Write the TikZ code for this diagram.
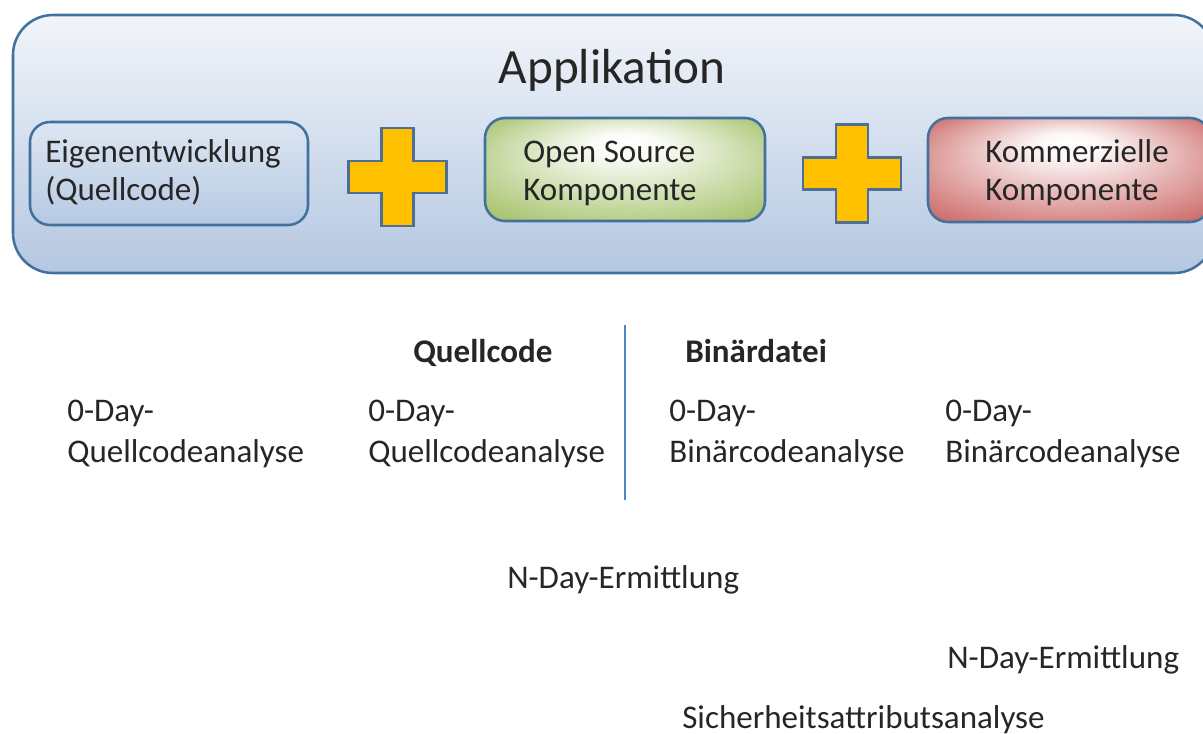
\documentclass[tikz,border=0pt]{standalone}
\usepackage{fontspec}
\setmainfont{Carlito}
\definecolor{appborder}{HTML}{41719C}
\definecolor{apptop}{HTML}{F2F5FA}
\definecolor{appbottom}{HTML}{B4C7E1}
\definecolor{owntop}{HTML}{DDE6F2}
\definecolor{ownbottom}{HTML}{B6C9E3}
\definecolor{ossgreen}{HTML}{9BBB59}
\definecolor{commred}{HTML}{C65A58}
\definecolor{plusfill}{HTML}{FFC000}
\definecolor{plusborder}{HTML}{4E6E96}
\definecolor{divblue}{HTML}{4F86C6}
\pgfdeclareradialshading{ossglow}{\pgfpoint{0bp}{14bp}}{color(0bp)=(white); color(6bp)=(white!95!ossgreen); color(38bp)=(ossgreen)}
\pgfdeclareradialshading{commglow}{\pgfpoint{0bp}{14bp}}{color(0bp)=(white); color(6bp)=(white!95!commred); color(38bp)=(commred)}
\begin{document}
\begin{tikzpicture}[x=0.025cm, y=-0.025cm,
  every node/.style={inner sep=0pt, text=black!85, font=\fontsize{23.5}{28.5}\selectfont},
  box/.style={draw=appborder, line width=1.8pt, rounded corners=0.5cm},
  plussign/.style={draw=plusborder, fill=plusfill, line width=1.5pt},
  lbl/.style={anchor=base west, align=left},
  boxlbl/.style={lbl, font=\fontsize{23.5}{26.5}\selectfont},
  head/.style={lbl, font=\fontsize{23.5}{28.5}\selectfont\bfseries},
  divider/.style={draw=divblue, line width=2pt}]
  \useasboundingbox (0,0) rectangle (1203,733);
  \clip (0,0) rectangle (1203,733);
  % application frame
  \draw[box, rounded corners=1cm, top color=apptop, bottom color=appbottom] (13,15) rectangle (1214,273);
  \node[anchor=base, font=\fontsize{35}{40}\selectfont] (app) at (612,83) {Applikation};
  % the three parts (last baseline given)
  \draw[box, top color=owntop, bottom color=ownbottom] (30,122) rectangle (308,225);
  \draw[box, shading=ossglow] (485,118) rectangle (765,221);
  \draw[box, shading=commglow] (928,118) rectangle (1210,222);
  \node[boxlbl] (eigen) at (45,200) {Eigenentwicklung\\(Quellcode)};
  \node[boxlbl] (oss) at (523,200) {Open Source\\Komponente};
  \node[boxlbl] (komm) at (985,200) {Kommerzielle\\Komponente};
  % plus signs
  \foreach \cx/\cy in {397.5/177, 852/173.5} {
    \draw[plussign] (\cx-16,\cy-49) -- ++(32,0) -- ++(0,33) -- ++(33,0) -- ++(0,32)
      -- ++(-33,0) -- ++(0,33) -- ++(-32,0) -- ++(0,-33) -- ++(-33,0) -- ++(0,-32)
      -- ++(33,0) -- cycle;
  }
  % source vs. binary
  \coordinate (divtop) at (625,325);
  \coordinate (divbot) at (625,500);
  \draw[divider] (divtop) -- (divbot);
  \node[head] (qhead) at (413,362) {Quellcode};
  \node[head] (bhead) at (685,362) {Binärdatei};
  \node[lbl] (zq1) at (67,462) {0-Day-\\Quellcodeanalyse};
  \node[lbl] (zq2) at (368,462) {0-Day-\\Quellcodeanalyse};
  \node[lbl] (zb1) at (669,462) {0-Day-\\Binärcodeanalyse};
  \node[lbl] (zb2) at (945,462) {0-Day-\\Binärcodeanalyse};
  \node[lbl] (nday1) at (507,588) {N-Day-Ermittlung};
  \node[lbl] (nday2) at (947,668) {N-Day-Ermittlung};
  \node[lbl] (secattr) at (682,728) {Sicherheitsattributsanalyse};
\end{tikzpicture}
\end{document}
